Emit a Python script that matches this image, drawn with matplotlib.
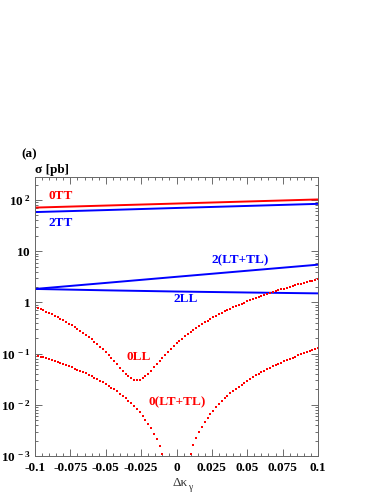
import numpy as np
import matplotlib
matplotlib.use('Agg')
import matplotlib.pyplot as plt
from matplotlib.ticker import FixedLocator, FixedFormatter, MultipleLocator, LogLocator, NullFormatter

plt.rcParams['font.family'] = ['Liberation Serif', 'DejaVu Serif']
plt.rcParams['mathtext.fontset'] = 'custom'
plt.rcParams['mathtext.rm'] = 'Liberation Serif:bold'
plt.rcParams['mathtext.bf'] = 'Liberation Serif:bold'
plt.rcParams['mathtext.it'] = 'Liberation Serif:italic'

# solid curves, sampled every 0.05 in delta kappa
dk_line = [-0.1, -0.05, 0.0, 0.05, 0.1]
s_0TT = [71.0, 77.8, 85.2, 93.4, 102.4]
s_2TT = [58.0, 63.5, 69.8, 76.5, 84.0]
s_2LTTL = [1.83, 2.40, 3.16, 4.15, 5.45]
s_2LL = [1.83, 1.72, 1.63, 1.56, 1.50]

# dotted curves, sampled every 0.002 from -0.1 to 0.1
dk_dot = [round(-0.1 + 0.002 * i, 3) for i in range(101)]
s_0LL = [0.8185, 0.7763, 0.7352, 0.6952, 0.6564, 0.6186, 0.582, 0.5465, 0.5122, 0.479,
         0.4469, 0.416, 0.3862, 0.3576, 0.3302, 0.3039, 0.2788, 0.2549, 0.2322, 0.2106,
         0.1902, 0.1711, 0.1531, 0.1364, 0.1208, 0.1065, 0.0934, 0.0815, 0.0708, 0.0614,
         0.0533, 0.0463, 0.0406, 0.0362, 0.033, 0.0311, 0.0305, 0.0311, 0.0331, 0.0363,
         0.0407, 0.0465, 0.0536, 0.062, 0.0717, 0.0827, 0.095, 0.1086, 0.1236, 0.1399,
         0.1575, 0.1765, 0.1968, 0.2185, 0.2415, 0.2659, 0.2916, 0.3187, 0.3472, 0.3771,
         0.4084, 0.441, 0.475, 0.5105, 0.5473, 0.5856, 0.6252, 0.6663, 0.7088, 0.7527,
         0.7981, 0.8449, 0.8931, 0.9428, 0.9939, 1.0465, 1.1006, 1.1561, 1.2131, 1.2716,
         1.3315, 1.3929, 1.4558, 1.5203, 1.5862, 1.6536, 1.7225, 1.7929, 1.8649, 1.9384,
         2.0134, 2.0899, 2.168, 2.2476, 2.3288, 2.4115, 2.4958, 2.5816, 2.669, 2.758,
         2.8485]
s_0LTTL = [0.09425, 0.09081, 0.08742, 0.08408, 0.08079, 0.07757, 0.07439, 0.07127, 0.06821, 0.06521,
           0.06226, 0.05937, 0.05654, 0.05377, 0.05107, 0.04842, 0.04583, 0.04331, 0.04085, 0.03846,
           0.03613, 0.03387, 0.03167, 0.02954, 0.02748, 0.02548, 0.02355, 0.0217, 0.01991, 0.0182,
           0.01656, 0.01499, 0.0135, 0.01207, 0.01073, 0.00946, 0.00826, 0.00715, 0.00611, 0.00515,
           0.00427, 0.00347, 0.00275, 0.00211, 0.00155, 0.00108, 0.000695, 0.000392, 0.000175, 0.000044,
           0.00001, 0.0000441, 0.000177, 0.000399, 0.000712, 0.001115, 0.00161, 0.0022, 0.00288, 0.00366,
           0.00453, 0.00549, 0.00656, 0.00772, 0.00898, 0.01033, 0.01179, 0.01335, 0.01501, 0.01677,
           0.01864, 0.02061, 0.02268, 0.02486, 0.02715, 0.02954, 0.03204, 0.03465, 0.03737, 0.0402,
           0.04315, 0.0462, 0.04937, 0.05265, 0.05605, 0.05956, 0.06319, 0.06694, 0.0708, 0.07479,
           0.07889, 0.08312, 0.08747, 0.09194, 0.09653, 0.10125, 0.10609, 0.11106, 0.11616, 0.12138,
           0.12674]

xticks = [-0.1, -0.075, -0.05, -0.025, 0.0, 0.025, 0.05, 0.075, 0.1]
xticklabels = ['-0.1', '-0.075', '-0.05', '-0.025', '0', '0.025', '0.05', '0.075', '0.1']
yticks = [1e-3, 1e-2, 1e-1, 1, 10, 100]
yticklabels = [r'$10^{\ -3}$', r'$10^{\ -2}$', r'$10^{\ -1}$', r'$1$', r'$10$', r'$10^{\ 2}$']

red = '#ff0000'
blue = '#0000ff'

fig = plt.figure(figsize=(3.82, 4.94), dpi=100)
ax = fig.add_axes([35/382, 1-456/494, 283/382, 279/494])

ax.plot(dk_line, s_0TT, color=red, lw=1.4)
ax.plot(dk_line, s_2TT, color=blue, lw=1.4)
ax.plot(dk_line, s_2LTTL, color=blue, lw=1.4)
ax.plot(dk_line, s_2LL, color=blue, lw=1.4)
ax.plot(dk_dot, s_0LL, 's', color=red, ms=1.7, mew=0)
ax.plot(dk_dot, s_0LTTL, 's', color=red, ms=1.7, mew=0)

ax.set_yscale('log')
ax.set_xlim(-0.1, 0.1)
ax.set_ylim(1e-3, 281)

ax.xaxis.set_major_locator(FixedLocator(xticks))
ax.xaxis.set_major_formatter(FixedFormatter(xticklabels))
ax.xaxis.set_minor_locator(MultipleLocator(0.005))
ax.yaxis.set_major_locator(FixedLocator(yticks))
ax.yaxis.set_major_formatter(FixedFormatter(yticklabels))
ax.yaxis.set_minor_locator(LogLocator(base=10, subs=np.arange(2, 10), numticks=20))
ax.yaxis.set_minor_formatter(NullFormatter())

ax.tick_params(which='both', direction='in', top=True, right=True, width=0.6, colors='#555555',
               labelcolor='black')
ax.tick_params(which='major', length=5)
ax.tick_params(which='minor', length=2.5)
ax.tick_params(axis='x', labelsize=9.5, pad=4)
ax.tick_params(axis='y', labelsize=9.5, pad=3)
for lab in ax.get_xticklabels():
    lab.set_fontweight('bold')
for sp in ax.spines.values():
    sp.set_linewidth(0.7)
    sp.set_color('#666666')

bold = dict(fontweight='bold', fontsize=9.5)
ax.text(-0.0816, 120, '0TT', color=red, ha='center', va='center', **bold)
ax.text(-0.0816, 34.8, '2TT', color=blue, ha='center', va='center', **bold)
ax.text(0.0449, 6.73, '2(LT+TL)', color=blue, ha='center', va='center', **bold)
ax.text(0.0067, 1.16, '2LL', color=blue, ha='center', va='center', **bold)
ax.text(-0.0269, 0.0859, '0LL', color=red, ha='center', va='center', **bold)
ax.text(0.0007, 0.01135, '0(LT+TL)', color=red, ha='center', va='center', **bold)

fig.text(35/382, 1-170/494, 'σ [pb]', ha='left', va='center', fontsize=9.5, fontweight='bold')
fig.text(21/382, 1-154/494, '(a)', ha='left', va='center', fontsize=9.5, fontweight='bold')
fig.text(188/382, 1-483/494, 'Δκ', ha='right', va='center', fontsize=9.5, color='#333333')
fig.text(188/382, 1-487/494, 'γ', ha='left', va='center', fontsize=7, color='#333333')

plt.savefig('out.png', dpi=100)
